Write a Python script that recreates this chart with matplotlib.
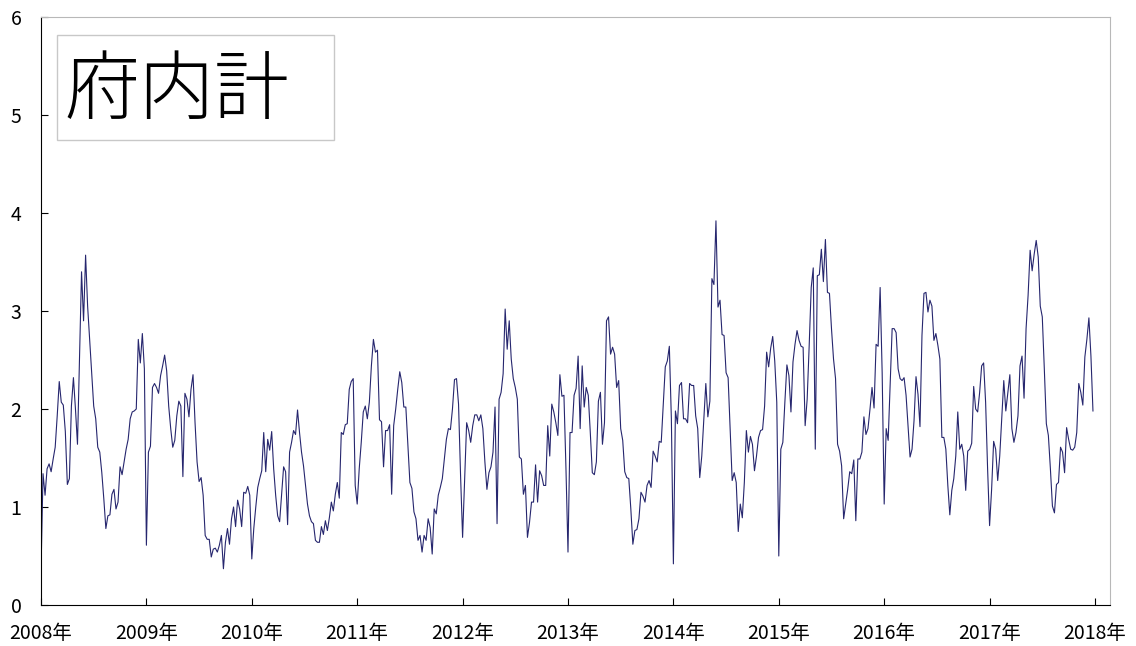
import numpy as np
import matplotlib.pyplot as plt
from matplotlib.patches import Rectangle

plt.rcParams['font.family'] = ['Noto Sans CJK JP', 'DejaVu Sans']

# valori settimanali, una lista per anno (prima settimana = calo di capodanno)
years = [2008, 2009, 2010, 2011, 2012, 2013, 2014, 2015, 2016, 2017]

vals_2008 = [0.34, 1.34, 1.12, 1.39, 1.44, 1.36, 1.49, 1.61, 1.93, 2.28, 2.07, 2.04, 1.77,
             1.23, 1.29, 2.03, 2.32, 2.00, 1.64, 2.54, 3.40, 2.90, 3.57, 3.05, 2.71, 2.37,
             2.03, 1.90, 1.61, 1.56, 1.35, 1.08, 0.78, 0.91, 0.92, 1.13, 1.18, 0.98, 1.05,
             1.41, 1.33, 1.46, 1.59, 1.69, 1.90, 1.97, 1.98, 2.00, 2.71, 2.47, 2.77, 2.41]
vals_2009 = [0.61, 1.56, 1.62, 2.22, 2.26, 2.22, 2.16, 2.34, 2.44, 2.55, 2.39, 2.03, 1.80,
             1.61, 1.68, 1.93, 2.08, 2.03, 1.31, 2.16, 2.10, 1.92, 2.20, 2.35, 1.86, 1.46,
             1.26, 1.30, 1.12, 0.71, 0.67, 0.67, 0.49, 0.57, 0.58, 0.54, 0.61, 0.71, 0.37,
             0.64, 0.78, 0.62, 0.88, 1.00, 0.80, 1.07, 0.98, 0.80, 1.15, 1.14, 1.21, 1.12]
vals_2010 = [0.47, 0.78, 1.00, 1.20, 1.29, 1.37, 1.76, 1.36, 1.69, 1.58, 1.77, 1.39, 1.12,
             0.91, 0.85, 1.13, 1.41, 1.36, 0.82, 1.56, 1.66, 1.78, 1.74, 1.99, 1.76, 1.56,
             1.42, 1.22, 1.03, 0.91, 0.85, 0.83, 0.66, 0.64, 0.64, 0.80, 0.72, 0.86, 0.76,
             0.89, 1.05, 0.96, 1.13, 1.25, 1.09, 1.76, 1.74, 1.84, 1.85, 2.20, 2.28, 2.31, 1.22]
vals_2011 = [1.03, 1.39, 1.66, 1.97, 2.03, 1.90, 2.07, 2.44, 2.71, 2.58, 2.60, 1.89, 1.87,
             1.41, 1.78, 1.78, 1.84, 1.13, 1.83, 2.00, 2.20, 2.38, 2.27, 2.02, 2.02, 1.63,
             1.25, 1.19, 0.95, 0.88, 0.66, 0.71, 0.54, 0.71, 0.66, 0.88, 0.79, 0.52, 0.98,
             0.93, 1.12, 1.20, 1.29, 1.49, 1.69, 1.80, 1.79, 2.00, 2.30, 2.31, 2.05, 1.32]
vals_2012 = [0.69, 1.29, 1.86, 1.78, 1.66, 1.83, 1.94, 1.94, 1.88, 1.94, 1.80, 1.46, 1.18,
             1.35, 1.41, 1.56, 2.02, 0.83, 2.10, 2.17, 2.36, 3.02, 2.61, 2.90, 2.51, 2.31,
             2.22, 2.10, 1.51, 1.49, 1.13, 1.22, 0.69, 0.84, 1.05, 1.05, 1.43, 1.05, 1.37,
             1.32, 1.22, 1.22, 1.83, 1.52, 2.05, 1.97, 1.86, 1.73, 2.35, 2.13, 2.14, 1.39]
vals_2013 = [0.54, 1.76, 1.76, 2.14, 2.21, 2.54, 1.80, 2.44, 2.02, 2.22, 2.14, 1.76, 1.35,
             1.33, 1.46, 2.08, 2.17, 1.64, 1.86, 2.90, 2.94, 2.56, 2.63, 2.56, 2.22, 2.29,
             1.80, 1.68, 1.36, 1.30, 1.29, 0.98, 0.62, 0.76, 0.77, 0.88, 1.15, 1.11, 1.05,
             1.22, 1.27, 1.20, 1.57, 1.52, 1.46, 1.67, 1.66, 2.05, 2.43, 2.49, 2.64, 1.90]
vals_2014 = [0.42, 1.98, 1.85, 2.24, 2.27, 1.90, 1.90, 1.86, 2.26, 2.24, 2.24, 1.93, 1.80,
             1.30, 1.52, 1.90, 2.26, 1.92, 2.08, 3.33, 3.27, 3.92, 3.04, 3.11, 2.76, 2.75,
             2.37, 2.32, 1.80, 1.27, 1.35, 1.25, 0.75, 1.03, 0.89, 1.25, 1.78, 1.56, 1.72,
             1.64, 1.37, 1.52, 1.71, 1.78, 1.79, 2.03, 2.58, 2.43, 2.62, 2.74, 2.49, 2.07]
vals_2015 = [0.50, 1.59, 1.66, 2.07, 2.45, 2.34, 1.97, 2.48, 2.66, 2.80, 2.70, 2.64, 2.63,
             1.83, 2.10, 2.65, 3.24, 3.44, 1.59, 3.36, 3.37, 3.63, 3.30, 3.73, 3.19, 3.18,
             2.82, 2.51, 2.31, 1.64, 1.57, 1.42, 0.88, 1.03, 1.18, 1.36, 1.34, 1.48, 0.86,
             1.49, 1.49, 1.56, 1.92, 1.74, 1.80, 2.00, 2.22, 2.01, 2.66, 2.64, 3.24, 2.37]
vals_2016 = [1.03, 1.80, 1.68, 2.26, 2.82, 2.82, 2.78, 2.41, 2.31, 2.29, 2.32, 2.14, 1.83,
             1.51, 1.59, 1.88, 2.33, 2.15, 1.82, 2.75, 3.18, 3.19, 2.99, 3.11, 3.05, 2.70,
             2.77, 2.65, 2.51, 1.71, 1.71, 1.59, 1.22, 0.92, 1.17, 1.29, 1.52, 1.97, 1.59,
             1.64, 1.52, 1.17, 1.57, 1.59, 1.65, 2.23, 2.00, 1.97, 2.17, 2.44, 2.47, 2.07, 1.39]
vals_2017 = [0.81, 1.18, 1.67, 1.59, 1.27, 1.52, 1.90, 2.29, 1.98, 2.17, 2.35, 1.80, 1.66,
             1.76, 1.93, 2.44, 2.54, 2.11, 2.82, 3.16, 3.62, 3.41, 3.58, 3.72, 3.55, 3.05,
             2.94, 2.41, 1.85, 1.73, 1.39, 1.01, 0.94, 1.23, 1.25, 1.61, 1.56, 1.35, 1.81,
             1.69, 1.59, 1.58, 1.61, 1.76, 2.26, 2.17, 2.04, 2.53, 2.71, 2.93, 2.54, 1.98]

all_vals = [vals_2008, vals_2009, vals_2010, vals_2011, vals_2012,
            vals_2013, vals_2014, vals_2015, vals_2016, vals_2017]

x = []
y = []
for yr, v in zip(years, all_vals):
    n = len(v)
    x += [yr + i / n for i in range(n)]
    y += v

fig = plt.figure(figsize=(11.36, 6.46), dpi=100)
ax = fig.add_axes([41 / 1136, 1 - 605 / 646, 1069 / 1136, 588 / 646])

ax.plot(x, y, color='#26266e', linewidth=0.8)

ax.set_xlim(2008, 2018 + 15 / 105.3)
ax.set_ylim(0, 6)
ticks = list(range(2008, 2019))
ax.set_xticks(ticks)
ax.set_xticklabels([f'{t}年' for t in ticks])
ax.set_yticks(range(0, 7))

ax.tick_params(direction='in', length=5, width=0.8, labelsize=14, colors='#000000')
ax.tick_params(axis='x', pad=13)
ax.tick_params(axis='y', pad=14)

ax.spines['left'].set_color('#000000')
ax.spines['bottom'].set_color('#000000')
ax.spines['top'].set_color('#b8b8b8')
ax.spines['right'].set_color('#b8b8b8')

# riquadro del titolo
fig.patches.append(Rectangle((57 / 1136, 1 - 140 / 646), 277 / 1136, 105 / 646,
                             transform=fig.transFigure, facecolor='white',
                             edgecolor='#c8c8c8', linewidth=1.0, zorder=5))
fig.text(177 / 1136, 1 - 92 / 646, '府内計', fontsize=54, fontweight='light',
         ha='center', va='center', color='black', zorder=6)

plt.savefig('out.png', dpi=100)
